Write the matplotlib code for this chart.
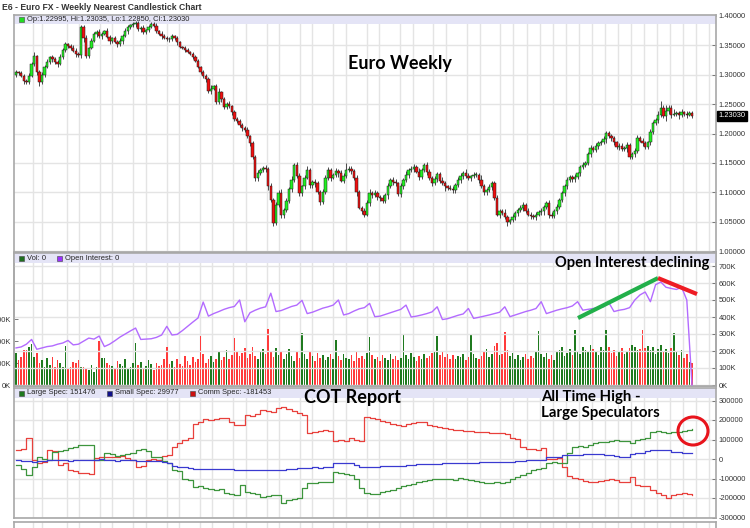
import numpy as np
import matplotlib
matplotlib.use('Agg')
import matplotlib.pyplot as plt
from matplotlib.patches import Rectangle, Ellipse
from matplotlib.transforms import blended_transform_factory

# weekly closes, Euro FX nearest contract
closes = [
    1.305, 1.303, 1.298, 1.290, 1.288, 1.298, 1.318, 1.332, 1.305, 1.288,
    1.300, 1.313, 1.322, 1.330, 1.327, 1.322, 1.318, 1.330, 1.342, 1.352,
    1.349, 1.346, 1.340, 1.336, 1.333, 1.381, 1.362, 1.332, 1.345, 1.358,
    1.369, 1.372, 1.366, 1.370, 1.374, 1.365, 1.357, 1.362, 1.356, 1.352,
    1.358, 1.366, 1.374, 1.381, 1.384, 1.386, 1.388, 1.378, 1.380, 1.372,
    1.376, 1.382, 1.386, 1.383, 1.375, 1.370, 1.366, 1.363, 1.361, 1.360,
    1.366, 1.362, 1.355, 1.347, 1.346, 1.342, 1.339, 1.336, 1.330, 1.324,
    1.313, 1.305, 1.298, 1.293, 1.272, 1.276, 1.280, 1.254, 1.270, 1.258,
    1.245, 1.250, 1.246, 1.236, 1.225, 1.222, 1.214, 1.210, 1.206, 1.195,
    1.184, 1.160, 1.125, 1.132, 1.138, 1.142, 1.140, 1.110, 1.087, 1.048,
    1.078, 1.099, 1.062, 1.070, 1.085, 1.105, 1.121, 1.147, 1.128, 1.099,
    1.110, 1.125, 1.138, 1.112, 1.118, 1.115, 1.100, 1.084, 1.100, 1.125,
    1.138, 1.125, 1.130, 1.136, 1.132, 1.120, 1.128, 1.138, 1.140, 1.136,
    1.125, 1.100, 1.074, 1.068, 1.062, 1.082, 1.099, 1.095, 1.098, 1.092,
    1.090, 1.085, 1.095, 1.110, 1.121, 1.118, 1.115, 1.097, 1.110, 1.121,
    1.130, 1.138, 1.140, 1.143, 1.135, 1.126, 1.138, 1.147, 1.135, 1.125,
    1.116, 1.122, 1.131, 1.120, 1.115, 1.110, 1.108, 1.106, 1.103, 1.112,
    1.121, 1.128, 1.133, 1.128, 1.125, 1.127, 1.130, 1.130, 1.121, 1.110,
    1.100, 1.104, 1.109, 1.116, 1.090, 1.062, 1.068, 1.065, 1.058, 1.050,
    1.052, 1.058, 1.064, 1.070, 1.073, 1.079, 1.068, 1.062, 1.060, 1.058,
    1.062, 1.066, 1.068, 1.075, 1.082, 1.062, 1.060, 1.068, 1.075, 1.087,
    1.099, 1.110, 1.121, 1.126, 1.122, 1.126, 1.132, 1.143, 1.146, 1.150,
    1.165, 1.175, 1.172, 1.178, 1.183, 1.186, 1.190, 1.201, 1.195, 1.192,
    1.185, 1.177, 1.179, 1.174, 1.176, 1.180, 1.160, 1.165, 1.170, 1.193,
    1.188, 1.183, 1.177, 1.185, 1.203, 1.218, 1.223, 1.232, 1.244, 1.230,
    1.238, 1.244, 1.232, 1.233, 1.235, 1.231, 1.236, 1.233, 1.232, 1.235,
    1.230,
]
first_open = 1.300

# wick lengths beyond the body, in 0.001
wick_up = [
    3, 2, 4, 3, 2, 5, 4, 6, 2, 3, 4, 3, 5, 2, 3, 4, 3, 5, 3, 4,
    2, 3, 4, 6, 3, 4, 3, 5, 2, 4, 3, 4, 6, 3, 2, 5, 3, 2, 4, 3,
    4, 3, 5, 3, 2, 4, 3, 4, 3, 5, 2, 3, 4, 3, 5, 2, 4, 3, 3, 4,
    3, 2, 4, 3, 2, 3, 4, 2, 3, 4, 3, 2, 3, 4, 3, 6, 3, 4, 8, 3,
    4, 3, 5, 3, 4, 3, 2, 4, 3, 5, 3, 4, 3, 6, 4, 3, 5, 3, 6, 4,
    5, 4, 6, 3, 5, 4, 6, 3, 5, 4, 3, 5, 6, 4, 3, 5, 4, 3, 6, 4,
    5, 4, 3, 5, 4, 6, 4, 12, 5, 4, 3, 5, 4, 3, 5, 4, 6, 3, 5, 4,
    3, 5, 4, 6, 3, 5, 4, 3, 5, 4, 6, 3, 4, 5, 3, 6, 4, 3, 5, 4,
    3, 5, 4, 3, 6, 4, 3, 5, 4, 3, 5, 4, 3, 6, 4, 3, 5, 4, 3, 8,
    4, 3, 5, 4, 3, 5, 4, 3, 6, 4, 3, 5, 4, 3, 5, 4, 3, 5, 4, 3,
    4, 3, 5, 4, 3, 5, 4, 3, 5, 4, 3, 4, 5, 3, 4, 5, 3, 4, 5, 3,
    4, 5, 3, 6, 4, 3, 5, 4, 3, 5, 4, 3, 5, 4, 3, 5, 4, 3, 5, 4,
    3, 5, 4, 3, 5, 4, 3, 6, 12, 4, 10, 5, 4, 8, 3, 4, 6, 3, 5, 3,
    3,
]
wick_dn = [
    4, 3, 2, 5, 3, 4, 2, 3, 6, 8, 3, 4, 2, 3, 5, 3, 4, 2, 3, 4,
    3, 4, 2, 5, 3, 4, 6, 3, 4, 2, 3, 4, 3, 5, 2, 3, 4, 3, 2, 4,
    3, 5, 2, 4, 3, 2, 4, 3, 5, 2, 3, 4, 3, 2, 4, 3, 5, 2, 3, 4,
    2, 3, 4, 2, 3, 4, 2, 3, 4, 3, 2, 4, 3, 5, 3, 4, 2, 3, 4, 5,
    3, 4, 2, 5, 3, 4, 3, 6, 4, 3, 5, 4, 6, 5, 3, 4, 5, 6, 4, 5,
    4, 3, 5, 6, 4, 3, 5, 4, 3, 6, 5, 4, 3, 5, 4, 6, 3, 5, 4, 3,
    4, 5, 3, 4, 6, 3, 5, 4, 3, 5, 4, 6, 3, 5, 4, 3, 5, 4, 3, 6,
    5, 3, 4, 6, 3, 5, 4, 3, 5, 4, 3, 5, 4, 6, 3, 5, 4, 3, 5, 4,
    6, 3, 5, 4, 3, 8, 4, 3, 5, 4, 3, 5, 6, 3, 4, 5, 3, 4, 6, 3,
    4, 5, 3, 6, 4, 3, 5, 4, 3, 8, 4, 3, 5, 4, 3, 5, 4, 3, 6, 4,
    5, 3, 4, 6, 3, 5, 4, 3, 5, 4, 3, 5, 4, 3, 5, 4, 3, 5, 4, 3,
    4, 5, 3, 4, 5, 3, 4, 6, 3, 5, 4, 3, 5, 4, 3, 8, 4, 3, 5, 4,
    3, 5, 4, 3, 5, 4, 3, 5, 4, 3, 8, 4, 5, 3, 4, 6, 3, 4, 5, 3,
    3,
]

# weekly volume (K contracts)
volume_k = [
    145, 114, 127, 159, 159, 173, 185, 127, 145, 100, 114, 82, 123, 91, 127, 82, 114, 100, 82, 178,
    77, 82, 105, 100, 114, 82, 82, 77, 68, 91, 59, 82, 200, 123, 123, 100, 92, 86, 75, 110,
    95, 88, 120, 72, 84, 98, 190, 90, 105, 76, 88, 115, 94, 70, 102, 86, 92, 118, 175, 96,
    108, 82, 120, 95, 88, 134, 110, 92, 126, 104, 118, 225, 140, 98, 116, 132, 105, 120, 150, 112,
    128, 160, 118, 135, 215, 150, 132, 145, 168, 122, 140, 175, 130, 118, 152, 165, 140, 255, 150, 128,
    170, 138, 155, 120, 142, 165, 132, 110, 148, 125, 235, 140, 118, 152, 130, 108, 145, 122, 136, 115,
    128, 142, 118, 205, 130, 112, 140, 125, 118, 135, 108, 150, 122, 132, 120, 145, 220, 135, 118, 126,
    110, 138, 124, 115, 142, 118, 130, 112, 125, 228, 136, 120, 145, 128, 110, 132, 118, 140, 124, 130,
    145, 150, 225, 138, 152, 128, 142, 120, 135, 118, 130, 126, 140, 115, 128, 232, 140, 125, 118, 134,
    150, 162, 128, 140, 176, 190, 135, 142, 240, 160, 132, 145, 120, 138, 112, 128, 140, 118, 132, 125,
    150, 245, 140, 128, 145, 120, 136, 112, 148, 160, 175, 130, 145, 162, 138, 250, 155, 140, 172, 160,
    148, 180, 165, 150, 138, 172, 160, 252, 175, 145, 160, 132, 150, 170, 140, 155, 166, 180, 172, 158,
    165, 250, 170, 178, 160, 172, 140, 165, 180, 150, 162, 145, 170, 236, 150, 138, 160, 125, 140, 105,
    100,
]

# open interest (K), every second week
oi_k = [
    218, 224, 240, 268, 210, 218, 226, 230, 240, 247, 262, 236, 240, 258, 276, 270, 288, 226, 240, 260,
    282, 300, 318, 335, 268, 270, 272, 280, 294, 345, 294, 298, 320, 345, 370, 394, 488, 405, 420, 432,
    445, 455, 462, 500, 372, 425, 440, 452, 460, 540, 432, 438, 450, 462, 470, 498, 420, 428, 440, 452,
    460, 470, 500, 412, 420, 435, 448, 455, 480, 402, 405, 415, 425, 435, 445, 470, 400, 405, 412, 420,
    430, 460, 385, 390, 400, 410, 418, 450, 392, 398, 405, 412, 420, 428, 460, 402, 412, 422, 432, 440,
    450, 490, 420, 430, 440, 448, 455, 465, 490, 440, 445, 450, 455, 460, 485, 432, 440, 445, 455, 500,
    530, 547, 490, 590, 606, 575, 568, 562, 575, 500, 0,
]

# COT net positions (K contracts), every second week
large_spec_k = [
    -31, -50, -82, -40, 10, -2, -5, 36, 40, 48, 55, 62, 72, 72, 70, -5, -5, 30, 28, 15,
    22, 25, 30, 48, 51, 40, 10, 8, -10, -20, -56, -60, -100, -108, -144, -140, -148, -152, -160, -155,
    -172, -180, -185, -133, -170, -175, -178, -195, -192, -186, -185, -226, -212, -205, -198, -150, -125, -123, -120, -120,
    -118, -67, -72, -78, -80, -100, -150, -175, -178, -180, -170, -165, -160, -150, -140, -135, -128, -120, -112, -110,
    -105, -102, -100, -104, -110, -98, -100, -108, -115, -118, -122, -125, -120, -123, -118, -100, -90, -80, -70, -56,
    -50, -46, -20, -15, -18, -20, 30, 62, 67, 62, 70, 84, 87, 85, 90, 95, 92, 90, 82, 100,
    104, 108, 140, 144, 138, 133, 136, 138, 146, 149, 152,
]
small_spec_k = [
    -5, -8, -12, -15, -10, -8, -6, -5, -3, -5, -8, -6, -4, -5, -6, -3, -2, -4, -6, -8,
    -5, -4, -6, -10, -12, -8, -10, -12, -15, -20, -38, -41, -42, -45, -50, -51, -52, -50, -51, -53,
    -51, -52, -55, -56, -57, -55, -56, -57, -55, -56, -54, -55, -52, -50, -48, -46, -45, -43, -44, -42,
    -41, -22, -20, -20, -18, -30, -40, -42, -41, -40, -38, -36, -35, -34, -35, -33, -30, -28, -27, -26,
    -25, -24, -22, -23, -22, -20, -19, -18, -18, -17, -16, -15, -16, -15, -15, -14, -12, -8, -5, -5,
    -4, -5, 8, 10, 11, 18, 20, 21, 22, 24, 26, 27, 26, 22, 18, 15, 12, 10, 28, 31,
    32, 42, 45, 46, 44, 46, 36, 34, 32, 30, 30,
]
comm_spec_k = [
    46, 50, 108, -5, -20, -15, 46, 40, -30, -20, -56, -60, -72, -70, -75, 5, 10, 8, 12, 10,
    15, 5, -5, -41, -38, -5, 0, -3, 15, 20, 60, 82, 100, 108, 180, 190, 205, 200, 206, 210,
    212, 190, 174, 176, 226, 222, 232, 250, 245, 240, 262, 267, 258, 245, 235, 225, 133, 138, 145, 150,
    142, 92, 95, 92, 108, 100, 92, 215, 210, 205, 195, 190, 182, 175, 170, 178, 185, 190, 188, 175,
    168, 165, 160, 155, 150, 148, 145, 142, 140, 138, 136, 135, 133, 133, 130, 108, 105, 60, 51, 50,
    48, 55, 2, 0, 5, -40, -88, -97, -100, -115, -118, -120, -115, -108, -102, -110, -118, -120, -92, -135,
    -138, -140, -160, -172, -185, -200, -185, -180, -176, -178, -185,
]

price_ticks = [1.00, 1.05, 1.10, 1.15, 1.20, 1.25, 1.30, 1.35, 1.40]
oi_ticks = [0, 100, 200, 300, 400, 500, 600, 700]
vol_ticks = [0, 100, 200, 300]
cot_ticks = [-300, -200, -100, 0, 100, 200, 300]
last_price = 1.23030

# ---- layout in pixels of the 750x528 picture ----
W, H = 750, 528
PX0, PXW = 16.0, 2.6          # pixel of week 0, pixels per week
AX_L, AX_R = 14, 716
xlim = ((AX_L - PX0) / PXW, (AX_R - PX0) / PXW)
grid_px = [33, 42, 67, 79, 100, 112, 133, 146, 167, 179, 200, 212, 233, 246, 267, 279,
           300, 312, 333, 346, 367, 379, 400, 413, 433, 446, 467, 480, 500, 513,
           527, 540, 553, 566, 579, 592, 605, 618, 631, 644, 657, 670, 683, 696, 709]
grid_weeks = [(p - PX0) / PXW for p in grid_px]

GRID = '#e4e4e4'
SPINE = '#a8a8a8'
TXT = '#333333'
BAND = '#e4e4f6'
TICKFONT = 5.4
SMALL = ['Liberation Sans Narrow', 'Liberation Sans', 'DejaVu Sans']

fig = plt.figure(figsize=(W / 100, H / 100), dpi=100)
fig.patch.set_facecolor('white')


def style_ticks(ax):
    ax.tick_params(axis='y', direction='in', length=3, width=0.6, color='#666666',
                   labelsize=TICKFONT, labelcolor=TXT, pad=2)
    for lab in ax.get_yticklabels():
        lab.set_family(SMALL)


def panel(top, bottom):
    ax = fig.add_axes([AX_L / W, 1 - bottom / H, (AX_R - AX_L) / W, (bottom - top) / H])
    ax.set_xlim(*xlim)
    ax.set_xticks([])
    for s in ax.spines.values():
        s.set_color(SPINE)
        s.set_linewidth(1.2)
    for g in grid_weeks:
        ax.axvline(g, color=GRID, lw=1, zorder=0)
    ax.yaxis.tick_right()
    return ax


def band(ax, height_px, panel_px, items):
    ax.add_patch(Rectangle((0, 1 - height_px / panel_px), 1, height_px / panel_px,
                           transform=ax.transAxes, facecolor=BAND, edgecolor='none', zorder=1))
    x = 5 / (AX_R - AX_L)
    ymid = 1 - height_px / panel_px / 2
    for label, col, gap in items:
        ax.add_patch(Rectangle((x, ymid - 2.5 / panel_px), 5 / (AX_R - AX_L), 5 / panel_px,
                               transform=ax.transAxes, facecolor=col, edgecolor='#444444',
                               lw=0.4, zorder=6))
        ax.text(x + 8 / (AX_R - AX_L), ymid, label, transform=ax.transAxes, fontsize=5.4,
                family=['Liberation Sans', 'DejaVu Sans'], color='#222222',
                va='center', ha='left', zorder=6)
        x += gap / (AX_R - AX_L)


# ---- price panel ----
n = len(closes)
weeks = np.arange(n)
c = np.array(closes)
o = np.concatenate([[first_open], c[:-1]])
hi = np.maximum(o, c) + np.array(wick_up) / 1000
lo = np.minimum(o, c) - np.array(wick_dn) / 1000
up = c >= o

ax1 = panel(15, 252)
ax1.set_ylim(1.0 - 0.0017, 1.40 + 0.0017)
ax1.set_yticks(price_ticks)
ax1.set_yticklabels(['%.5f' % t for t in price_ticks])
style_ticks(ax1)
ax1.grid(axis='y', color=GRID, lw=1)
ax1.set_axisbelow(True)
ax1.vlines(weeks, lo, hi, color='#4a4a4a', lw=0.7, zorder=3)
body = np.maximum(np.abs(c - o), 0.0012)
ax1.bar(weeks, body, bottom=np.minimum(o, c), width=0.9,
        color=np.where(up, '#22f022', '#f01010'), edgecolor='#1a1a1a', linewidth=0.35, zorder=4)
band(ax1, 9, 237, [('Op:1.22995, Hi:1.23035, Lo:1.22850, Cl:1.23030', '#22dd22', 0)])
tr = blended_transform_factory(ax1.transAxes, ax1.transData)
ax1.text(1.004, last_price, '%.5f' % last_price, transform=tr, fontsize=TICKFONT, color='white',
         family=SMALL, va='center', ha='left', zorder=10,
         bbox=dict(boxstyle='square,pad=0.2', facecolor='black', edgecolor='black'))

# ---- volume / open interest panel ----
ax2 = panel(253, 386)
ax2.set_ylim(-100 / 22, 132 * 100 / 22)
ax2.yaxis.tick_left()
ax2.set_yticks(vol_ticks)
ax2.set_yticklabels(['%dK' % t for t in vol_ticks])
style_ticks(ax2)
ax2.bar(weeks, volume_k, width=0.65, color=np.where(up, '#1f7a1f', '#ff3b3b'), zorder=3)
ax2b = ax2.twinx()
ax2b.set_xlim(*xlim)
ax2b.set_ylim(-100 / 17, 132 * 100 / 17)
ax2b.set_yticks(oi_ticks)
ax2b.set_yticklabels(['%dK' % t for t in oi_ticks])
style_ticks(ax2b)
ax2b.grid(axis='y', color=GRID, lw=1)
ax2b.set_axisbelow(True)
ax2.set_zorder(ax2b.get_zorder() - 1)
ax2b.patch.set_visible(False)
for s in ax2b.spines.values():
    s.set_color(SPINE)
    s.set_linewidth(1.2)
oi_weeks = np.arange(0, n, 2)[:len(oi_k)]
ax2b.plot(oi_weeks, oi_k, color='#b36bff', lw=1.0, zorder=5)
band(ax2b, 10, 133, [('Vol: 0', '#1f6f1f', 38), ('Open Interest: 0', '#9b30ff', 0)])

# trend lines drawn on the open interest scale
ax2b.plot([(578 - PX0) / PXW, (658 - PX0) / PXW], [394, 629], color='#22b04a', lw=3,
          solid_capstyle='butt', zorder=8)
ax2b.plot([(658 - PX0) / PXW, (697 - PX0) / PXW], [629, 535], color='#ee1c24', lw=3,
          solid_capstyle='butt', zorder=8)

# ---- COT panel ----
ax3 = panel(388, 518)
ax3.set_ylim(-59 * 100 / 19.5, 71 * 100 / 19.5)
ax3.set_yticks(cot_ticks)
ax3.set_yticklabels(['%d' % (t * 1000) for t in cot_ticks])
style_ticks(ax3)
ax3.grid(axis='y', color=GRID, lw=1)
ax3.set_axisbelow(True)
cot_weeks = np.arange(0, n, 2)[:len(large_spec_k)]
ax3.plot(cot_weeks, comm_spec_k, drawstyle='steps-post', color='#e8403c', lw=0.9, zorder=4)
ax3.plot(cot_weeks, large_spec_k, drawstyle='steps-post', color='#3d953d', lw=0.9, zorder=4)
ax3.plot(cot_weeks, small_spec_k, drawstyle='steps-post', color='#3a3ad0', lw=0.9, zorder=4)
band(ax3, 10, 130, [('Large Spec: 151476', '#1f7a1f', 88), ('Small Spec: 29977', '#10108a', 83),
                    ('Comm Spec: -181453', '#cc1010', 0)])
ax3.add_patch(Ellipse(((693 - PX0) / PXW, 28 * 100 / 19.5), 30 / PXW, 28 * 100 / 19.5,
                      facecolor='none', edgecolor='#e8141c', lw=2.2, zorder=9))

# next panel peeking in at the bottom
ax4 = panel(522, 560)
ax4.set_yticks([])

# ---- texts ----
fig.text(2 / W, 1 - 8 / H, 'E6 - Euro FX - Weekly Nearest Candlestick Chart', fontsize=6.2,
         family='Liberation Sans', weight='bold', color='#333333', va='center', ha='left')
ann = dict(family='Lato', weight='bold', color='black', va='center')
fig.text(400 / W, 1 - 63 / H, 'Euro Weekly', fontsize=13, ha='center', **ann)
fig.text(632 / W, 1 - 263 / H, 'Open Interest declining', fontsize=10.6, ha='center', **ann)
fig.text(352 / W, 1 - 397 / H, 'COT Report', fontsize=13, ha='center', **ann)
fig.text(541 / W, 1 - 397 / H, 'All Time High -', fontsize=10.8, ha='left', **ann)
fig.text(541 / W, 1 - 413 / H, 'Large Speculators', fontsize=10.8, ha='left', **ann)

fig.savefig('out.png', dpi=100)
